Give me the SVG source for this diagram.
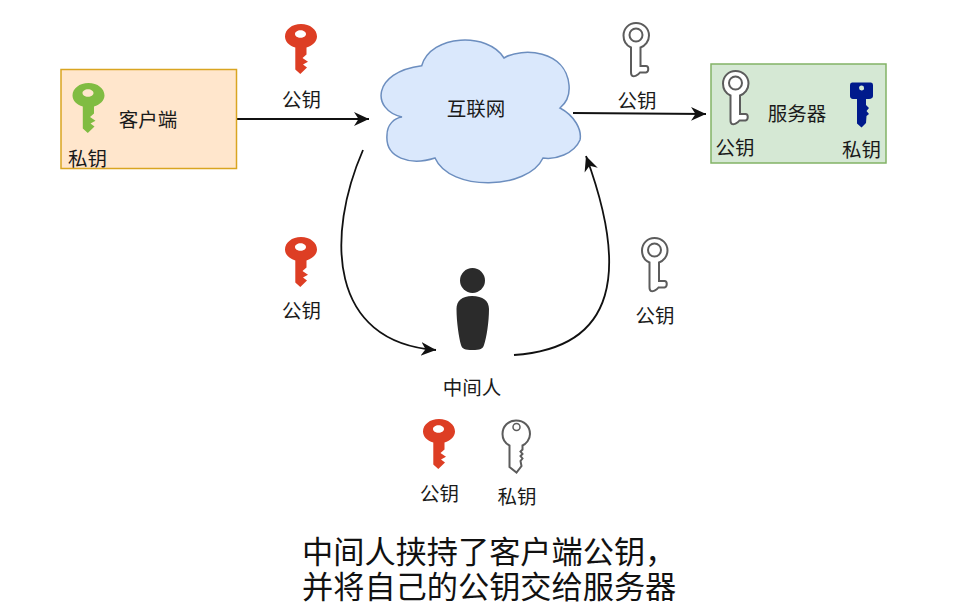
<svg xmlns="http://www.w3.org/2000/svg" xmlns:xlink="http://www.w3.org/1999/xlink" width="955" height="613" viewBox="0 0 955 613">
<style>
text{font-family:"Noto Sans CJK SC","Noto Sans",sans-serif;fill:#1a1a1a;font-size:19.500px;text-anchor:middle}
.cap{font-size:31.200px;text-anchor:start;fill:#111}
.conn{fill:none;stroke:#111;stroke-width:1.800;marker-end:url(#arr)}
.outl{fill:#fff;stroke:#5c5c5c;stroke-width:2}
</style>
<defs>
<marker id="arr" markerUnits="userSpaceOnUse" markerWidth="17" markerHeight="16" refX="15" refY="8" orient="auto"><path d="M0 1L15 8L0 15L4.500 8Z" fill="#111"/></marker>
<path id="solidkey" fill-rule="evenodd" d="M16 0C25 0 32 5.500 32 12.500C32 17.500 27.500 21.500 21.500 23.500L21.500 30.500L17.500 34L23 37.700L18 40.500L22 43.500L15.300 50L10.300 45.500L10.300 23.500C4 21.500 0 17.500 0 12.500C0 5.500 7 0 16 0ZM15.500 6.200C12.300 6.200 10 8 10 10C10 12 12.300 13.800 15.500 13.800C18.700 13.800 21 12 21 10C21 8 18.700 6.200 15.500 6.200Z"/>
<g id="ringkey"><path class="outl" fill-rule="evenodd" d="M13 1C20.500 1 26 6.500 26 13.500C26 19.500 22 24 17.500 25.500L17.500 44L23 44C26 44 26 50 23 50.500L17 50.500C15 53 11 55 9.500 54C8 53.500 8 52 8 50L8 25.500C3.500 23.500 0.500 19.500 0.500 13.500C0.500 6.500 6 1 13 1Z"/><circle class="outl" cx="13" cy="13" r="6.500"/></g>
</defs>
<g id="connectors">
<path class="conn" d="M237 119L369 119"/>
<path class="conn" d="M573 113L706 114"/>
<path class="conn" d="M363 150C326 235 328 342 436 350"/>
<path class="conn" d="M514 355C618 348 628 270 586 156"/>
</g>
<g id="client">
<rect x="61" y="69.500" width="175.500" height="99" fill="#ffe6cc" stroke="#d9a521" stroke-width="1.500"/>
<use xlink:href="#solidkey" href="#solidkey" x="72.500" y="83" fill="#80bc42"/>
<text x="148" y="126.500">客户端</text>
<text x="87.500" y="165.500">私钥</text>
</g>
<g id="client-public-key">
<use xlink:href="#solidkey" href="#solidkey" x="285" y="24" fill="#dd3e24"/>
<text x="301.500" y="106.700">公钥</text>
</g>
<g id="internet">
<path d="M421.700 65.700C431 34 488 32 504 58C522 47 566 50 569 85C570 95 566 103 560 108C575 116 582 130 580 140C574 154 555 160 543 158C528 190 450 192 435 158C410 166 385 158 387 135C387 125 394 118 402 117C371 110 372 72 421.700 65.700Z" fill="#dae8fc" stroke="#6c8ebf" stroke-width="1.500"/>
<text x="476" y="115.500">互联网</text>
</g>
<g id="server-public-key">
<use xlink:href="#ringkey" href="#ringkey" x="623" y="22"/>
<text x="637" y="107.500">公钥</text>
</g>
<g id="server">
<rect x="711" y="64" width="175" height="99" fill="#d5e8d4" stroke="#82b366" stroke-width="1.500"/>
<use xlink:href="#ringkey" href="#ringkey" x="722.500" y="70"/>
<text x="797" y="121">服务器</text>
<text x="735" y="154.500">公钥</text>
<path fill="#001a8c" fill-rule="evenodd" d="M852 82.500L871 82.500Q873 82.500 873 85L873 96Q873 98.500 869 99L866 99L866 105L869 108L866.500 111L869 114L866.500 116L866 123L861.500 127.500L857 123.500L857 99L853 99Q850 98.500 850 96L850 85Q850 82.500 852 82.500ZM861.500 85.500A2.500 2.500 0 1 0 861.600 90.500A2.500 2.500 0 1 0 861.500 85.500Z"/>
<text x="861.500" y="156.500">私钥</text>
</g>
<g id="mitm">
<circle cx="472.500" cy="280.500" r="12.500" fill="#2b2b2b"/>
<path d="M472 296C483 296 489 301 489 309C489 322 486.500 338 484 345C483 349 480 350 472.500 350C465 350 462 349 461 345C459 338 456.500 322 456.500 309C456.500 301 462 296 472 296Z" fill="#2b2b2b"/>
<text x="472" y="394.500">中间人</text>
</g>
<g id="intercepted-client-key">
<use xlink:href="#solidkey" href="#solidkey" x="285" y="237" fill="#dd3e24"/>
<text x="301.500" y="317.700">公钥</text>
</g>
<g id="fake-server-key">
<use xlink:href="#ringkey" href="#ringkey" x="641.500" y="237"/>
<text x="655" y="323">公钥</text>
</g>
<g id="mitm-public-key">
<use xlink:href="#solidkey" href="#solidkey" x="423" y="419" fill="#dd3e24"/>
<text x="439.500" y="500.700">公钥</text>
</g>
<g id="mitm-private-key">
<path class="outl" fill-rule="evenodd" d="M516 420.500C524 420.500 530 426 530 434C530 439.500 526 444 522.500 445.500L522.500 449.500L520.500 451.500L522.500 454L520.500 456L522.500 458.500L520.500 461L521.500 466L516.500 472.500L509.500 467L509.500 445.500C505.500 443.500 502.500 439.500 502.500 434C502.500 426 508.500 420.500 516 420.500Z"/>
<circle cx="516.500" cy="427" r="3.500" fill="#fff" stroke="#5c5c5c" stroke-width="1.500"/>
<text x="517" y="503.700">私钥</text>
</g>
<g id="caption">
<text class="cap" x="302" y="563">中间人挟持了客户端公钥，</text>
<text class="cap" x="302" y="598">并将自己的公钥交给服务器</text>
</g>
</svg>
